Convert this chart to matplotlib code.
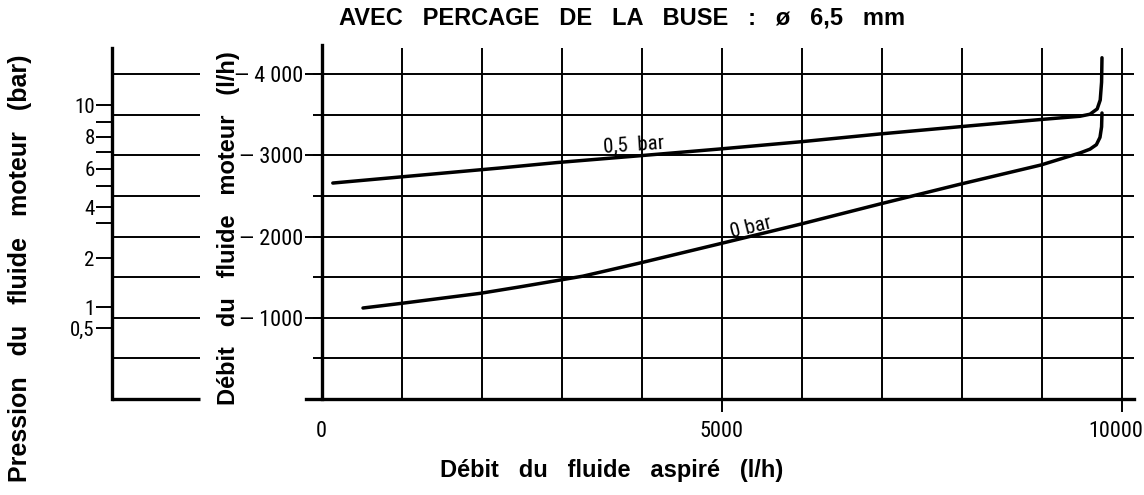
import matplotlib
matplotlib.use("Agg")
import matplotlib.pyplot as plt
from matplotlib import font_manager
from matplotlib.font_manager import FontProperties
from matplotlib.transforms import ScaledTranslation

aspire_05bar = [140, 2228, 2940, 3950, 4950, 5975, 6975, 7960, 8985, 9475, 9600, 9690, 9728, 9745, 9750]
moteur_05bar = [2658, 2843, 2910, 2992, 3075, 3165, 3262, 3350, 3440, 3480, 3505, 3570, 3680, 3900, 4200]

aspire_0bar = [517, 979, 1978, 2477, 3265, 3952, 4951, 5975, 6975, 7962, 8987, 9480, 9600, 9680, 9725, 9745, 9750]
moteur_0bar = [1120, 1175, 1300, 1380, 1512, 1668, 1905, 2150, 2400, 2640, 2880, 3030, 3075, 3130, 3220, 3350, 3520]

# échelle des pressions lue en face du débit moteur
pression_bar = [0.5, 1, 2, 3, 4, 5, 6, 7, 8, 9, 10]
pression_debit = [874, 1132, 1735, 2166, 2363, 2622, 2831, 3040, 3225, 3409, 3618]
pression_labels = ["0,5", "1", "2", "", "4", "", "6", "", "8", "", "10"]

debit_ticks = [1000, 2000, 3000, 4000]
debit_labels = ["— 1000", "— 2000", "— 3000", "— 4 000"]
grille_h = [500, 1000, 1500, 2000, 2500, 3000, 3500, 4000]
grille_v = [1000, 2000, 3000, 4000, 5000, 6000, 7000, 8000, 9000, 10000]
aspire_ticks = [0, 5000, 10000]
aspire_labels = ["0", "5000", "10000"]


def police_etroite():
    # cherche une police étroite (type DIN) pour les chiffres
    prefs = ["liberationsansnarrow-regular", "robotocondensed-regular", "dejavusanscondensed.ttf",
             "opensans_condensed-regular", "condensed-regular", "narrow-regular", "condensed.ttf"]
    files = [f.fname for f in font_manager.fontManager.ttflist]
    for p in prefs:
        for fn in files:
            if p in fn.lower().replace(" ", ""):
                return fn
    return None


narrow = police_etroite()


def num_fp(size):
    if narrow:
        return FontProperties(fname=narrow, size=size)
    return FontProperties(family="Liberation Sans", size=size * 0.85)


bold_font = "Liberation Sans"

W, H = 1144, 495
fig = plt.figure(figsize=(W / 100, H / 100), dpi=100)
ymax = 4357

# abaque principal
ax = fig.add_axes([304 / W, 96 / H, 834 / W, 354 / H])
ax.set_xlim(-220, 10200)
ax.set_ylim(0, ymax)
for s in ["top", "right"]:
    ax.spines[s].set_visible(False)
ax.spines["left"].set_position(("data", 0))
ax.spines["left"].set_bounds(0, ymax)
ax.spines["bottom"].set_bounds(-200, 10150)
for s in ["left", "bottom"]:
    ax.spines[s].set_linewidth(2.4)

ax.hlines(grille_h, -110, 10150, color="black", lw=1.4)
ax.vlines(grille_v, 0, 4320, color="black", lw=1.4)

ax.plot(aspire_05bar, moteur_05bar, color="black", lw=2.5, solid_capstyle="round", solid_joinstyle="round")
ax.plot(aspire_0bar, moteur_0bar, color="black", lw=2.5, solid_capstyle="round", solid_joinstyle="round")

ax.text(3903, 3126, "0,5  bar", fontproperties=num_fp(15), rotation=4,
        ha="center", va="center", rotation_mode="anchor")
ax.text(5364, 2105, "0 bar", fontproperties=num_fp(15), rotation=14,
        ha="center", va="center", rotation_mode="anchor")

ax.set_yticks(debit_ticks)
ax.set_yticklabels(debit_labels, fontproperties=num_fp(16))
ax.tick_params(axis="y", length=12, width=1.4, pad=1)
ax.set_xticks(aspire_ticks)
ax.set_xticklabels(aspire_labels, fontproperties=num_fp(16))
ax.tick_params(axis="x", length=9, width=1.4, pad=7)
ax.xaxis.get_major_ticks()[0].tick1line.set_visible(False)
# le dernier libellé est décalé vers la gauche pour rester dans le cadre
lab = ax.get_xticklabels()[-1]
lab.set_transform(lab.get_transform() + ScaledTranslation(-6 / 100, 0, fig.dpi_scale_trans))

# échelle des pressions à gauche
axp = fig.add_axes([112 / W, 96 / H, 88 / W, 354 / H])
axp.set_xlim(0, 1)
axp.set_ylim(0, ymax)
for s in ["top", "right", "bottom"]:
    axp.spines[s].set_visible(False)
axp.spines["left"].set_bounds(0, 4320)
axp.spines["left"].set_linewidth(2.4)
axp.hlines(grille_h, 0, 1, color="black", lw=1.4)
axp.hlines(0, 0, 1, color="black", lw=2.4, clip_on=False)
axp.set_xticks([])
axp.set_yticks(pression_debit)
axp.set_yticklabels(pression_labels, fontproperties=num_fp(15))
axp.tick_params(axis="y", length=11.5, width=1.4, pad=1)

# titres
fig.text(622 / W, 1 - 18 / H, "AVEC   PERCAGE   DE   LA   BUSE   :   ø   6,5   mm",
         family=bold_font, weight="bold", fontsize=17, ha="center", va="center")
fig.text(612 / W, 1 - 471 / H, "Débit   du   fluide   aspiré   (l/h)",
         family=bold_font, weight="bold", fontsize=17, ha="center", va="center")
fig.text(228 / W, 1 - 228 / H, "Débit   du   fluide   moteur   (l/h)",
         family=bold_font, weight="bold", fontsize=17, ha="center", va="center", rotation=90)
fig.text(20 / W, 1 - 268 / H, "Pression   du   fluide   moteur   (bar)",
         family=bold_font, weight="bold", fontsize=18, ha="center", va="center", rotation=90)

fig.savefig("out.png", dpi=100)
